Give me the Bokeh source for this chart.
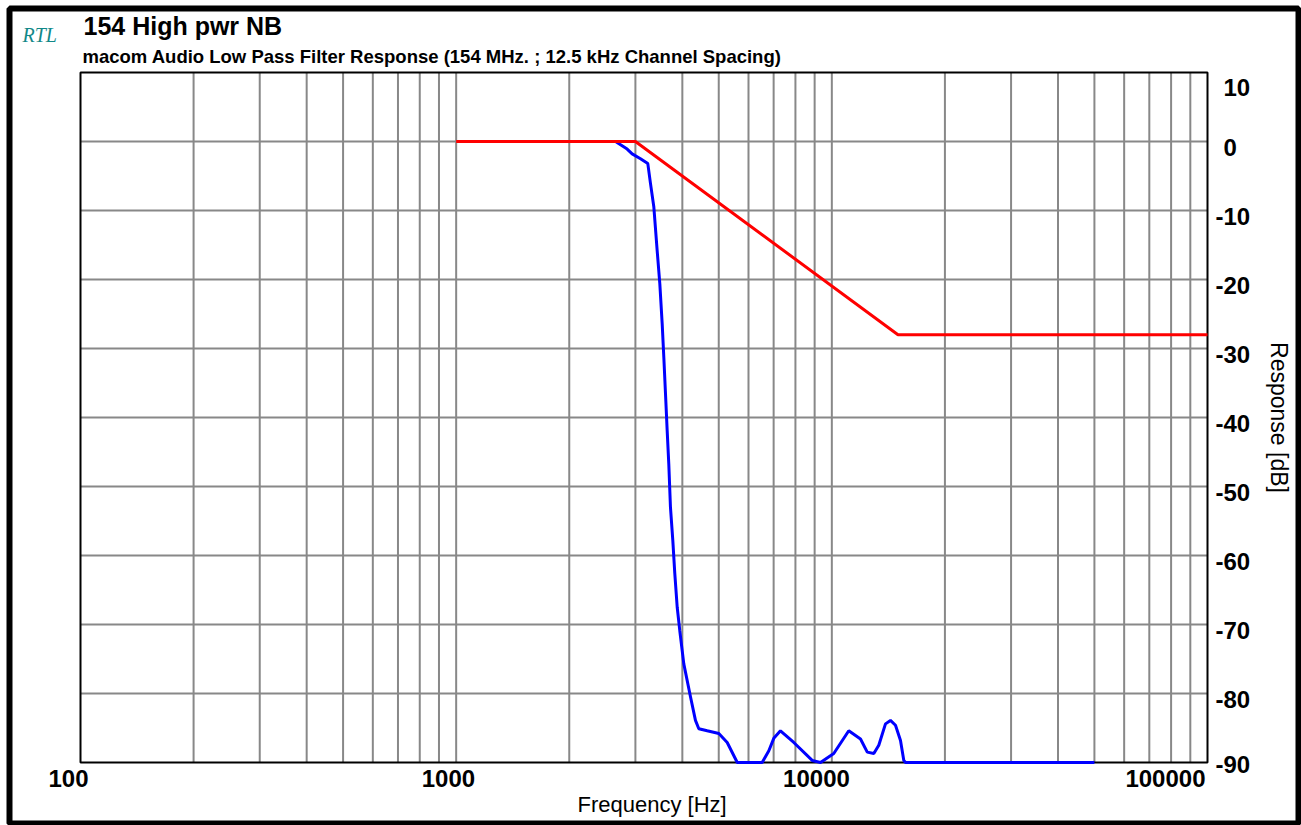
import math
from bokeh.plotting import figure
from bokeh.models import Label, Range1d
from bokeh.embed import file_html
from bokeh.resources import INLINE

# ---------------- data ----------------
x_ticks = [100, 1000, 10000, 100000]
x_tick_labels = ["100", "1000", "10000", "100000"]
x_minor = [m * d for d in [100, 1000, 10000] for m in range(2, 10)]

y_ticks = [10, 0, -10, -20, -30, -40, -50, -60, -70, -80, -90]
y_tick_labels = ["10", "0", "-10", "-20", "-30", "-40", "-50", "-60", "-70", "-80", "-90"]

# red limit mask
mask_freq = [1000, 3000, 15000, 100000]
mask_db = [0, 0, -28, -28]

# blue measured response
resp_freq = [2656, 2852, 2941, 3095, 3237, 3291, 3359, 3428, 3484, 3535, 3571,
             3608, 3645, 3681, 3719, 3773, 3819, 3876, 3938, 4036, 4206, 4335,
             4425, 4658, 5003, 5266, 5601, 6524, 6797, 7006, 7299, 7920, 8866,
             9328, 10120, 11093, 11922, 12426, 12935, 13335, 13893, 14325,
             14773, 15233, 15545, 15709, 50000]
resp_db = [0.0, -1.1, -1.8, -2.5, -3.2, -6.1, -9.5, -15.8, -20.6, -26.4, -31.3,
           -36.6, -41.9, -46.7, -53.0, -57.8, -62.6, -67.5, -70.9, -75.7, -80.5, -83.9,
           -85.1, -85.4, -85.8, -87.1, -90.0, -90.0, -88.3, -86.5, -85.4, -87.1, -89.7,
           -90.0, -88.7, -85.4, -86.6, -88.5, -88.7, -87.5, -84.4, -83.9,
           -84.6, -86.8, -89.7, -90.0, -90.0]

title_text = "154 High pwr NB"
subtitle_text = "macom Audio Low Pass Filter Response (154 MHz. ; 12.5 kHz Channel Spacing)"
logo_text = "RTL"
x_title = "Frequency [Hz]"
y_title = "Response [dB]"

# ---------------- layout (pixels) ----------------
W, H = 1301, 825
PL, PR, PT, PB = 80, 1207, 72, 762          # plot area in canvas pixels
XLO, XHI = math.log10(x_ticks[0]), math.log10(x_ticks[-1])
YHI, YLO = y_ticks[0], y_ticks[-1]
DEC = (PR - PL) / (XHI - XLO)                 # px per decade
DBPX = (PB - PT) / (YHI - YLO)                # px per dB
BASE_K = 0.38                                 # baseline correction (fraction of font size)


def xd(px):
    return 10 ** (XLO + (px - PL) / DEC)


def yd(py):
    return YHI - (py - PT) / DBPX


def xp(v):
    return PL + (math.log10(v) - XLO) * DEC


def yp(v):
    return PT + (YHI - v) * DBPX


p = figure(width=W, height=H, x_axis_type="log",
           x_range=Range1d(xd(0), xd(W)), y_range=Range1d(yd(H), yd(0)),
           output_backend="svg", toolbar_location=None,
           min_border=0, min_border_left=0, min_border_right=0,
           min_border_top=0, min_border_bottom=0)
p.xaxis.visible = False
p.yaxis.visible = False
p.xgrid.visible = False
p.ygrid.visible = False
p.background_fill_color = "white"
p.border_fill_color = "white"
p.outline_line_color = None

grid_color = "#888888"
gx = [v for v in x_ticks + x_minor if x_ticks[0] < v < x_ticks[-1]]
p.segment(x0=gx, y0=[YLO] * len(gx), x1=gx, y1=[YHI] * len(gx),
          line_color=grid_color, line_width=2)
gy = [v for v in y_ticks if YLO < v < YHI]
p.segment(x0=[x_ticks[0]] * len(gy), y0=gy, x1=[x_ticks[-1]] * len(gy), y1=gy,
          line_color=grid_color, line_width=2)

# plot frame
p.quad(left=[x_ticks[0]], right=[x_ticks[-1]], bottom=[YLO], top=[YHI],
       fill_color=None, line_color="black", line_width=2)
# outer page border
p.quad(left=[xd(9)], right=[xd(1298)], bottom=[yd(823)], top=[yd(8)],
       fill_color=None, line_color="black", line_width=6)

p.line(resp_freq, resp_db, line_color="#0000ff", line_width=3)
p.line(mask_freq, mask_db, line_color="#ff0000", line_width=3)

FONT = "Liberation Sans"


def label(px, py, text, size, style="normal", align="left", baseline="alphabetic",
          font=FONT, color="black", angle=0.0):
    if baseline == "alphabetic":
        py = py - BASE_K * size
    p.add_layout(Label(x=xd(px), y=yd(py), text=text, text_font=font,
                       text_font_size=f"{size}px", text_font_style=style,
                       text_color=color, text_align=align, text_baseline=baseline,
                       angle=angle))


# titles
label(83, 35, title_text, 25, "bold")
label(82, 63, subtitle_text, 18.5, "bold")
label(22, 42, logo_text, 20, "italic", font="Liberation Serif", color="#118888")

# x tick labels
x_label_shift = [8, 19, 18, -2]
for v, t, dx in zip(x_ticks, x_tick_labels, x_label_shift):
    label(xp(v) + dx, PB + 25, t, 24, "bold", align="right")

# y tick labels (right side)
for v, t in zip(y_ticks, y_tick_labels):
    dx = 8 if t.startswith("-") else 16
    dy = 15
    if v == YHI:
        dy = 24
    elif v == YLO:
        dy = 11
    label(PR + dx, yp(v) + dy, t, 24, "bold")

# axis titles
label(577, 812, x_title, 22)
label(1278, yp(-40), y_title, 23, align="center", baseline="middle", angle=-math.pi / 2)

open("out.html", "w").write(file_html(p, INLINE))
